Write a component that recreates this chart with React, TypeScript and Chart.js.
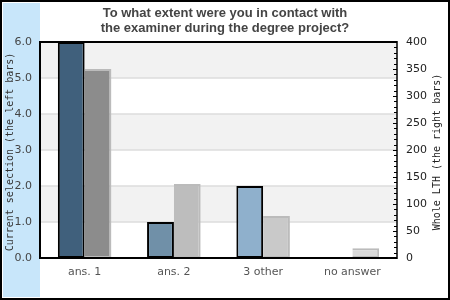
import React, { useEffect, useRef } from "react";
import { Chart, registerables } from "chart.js";

Chart.register(...registerables);

const categories = ["ans. 1", "ans. 2", "3 other", "no answer"];
const currentValues = [6, 1, 2, 0];
const lthValues = [350, 137, 78, 18];
const leftTicks = [0, 1, 2, 3, 4, 5, 6];
const rightTicks = [0, 50, 100, 150, 200, 250, 300, 350, 400];
const titleLines = ["To what extent were you in contact with", "the examiner during the degree project?"];
const leftTitle = "Current selection (the left bars)";
const rightTitle = "Whole LTH (the right bars)";

const currentColors = ["#40607c", "#7090a8", "#8fb0cc", "#b0cce0"];
const lthColors = ["#8c8c8c", "#bdbdbd", "#c9c9c9", "#d9d9d9"];

const decorPlugin = {
  id: "decor",
  beforeDraw(chart: any) {
    const { ctx, chartArea, scales } = chart;
    const y = scales.y;
    ctx.save();
    ctx.fillStyle = "#ffffff";
    ctx.fillRect(0, 0, chart.width, chart.height);
    ctx.fillStyle = "#c8e6fa";
    ctx.fillRect(3, 3, 37, 294);
    for (let v = 0; v < 6; v++) {
      if (v % 2 === 1) {
        const top = y.getPixelForValue(v + 1);
        const bot = y.getPixelForValue(v);
        ctx.fillStyle = "#f2f2f2";
        ctx.fillRect(chartArea.left, top, chartArea.right - chartArea.left, bot - top);
      }
    }
    ctx.strokeStyle = "#dddddd";
    ctx.lineWidth = 1.5;
    for (const v of leftTicks) {
      const py = y.getPixelForValue(v);
      ctx.beginPath();
      ctx.moveTo(chartArea.left, py);
      ctx.lineTo(chartArea.right, py);
      ctx.stroke();
    }
    ctx.restore();
  },
  afterDraw(chart: any) {
    const { ctx, chartArea, scales } = chart;
    const y1 = scales.y1;
    ctx.save();
    ctx.strokeStyle = "#000";
    ctx.lineWidth = 2;
    ctx.beginPath();
    ctx.moveTo(chartArea.right, chartArea.top);
    ctx.lineTo(chartArea.left, chartArea.top);
    ctx.lineTo(chartArea.left, chartArea.bottom);
    ctx.lineTo(chartArea.right, chartArea.bottom);
    ctx.stroke();
    ctx.lineWidth = 1.5;
    ctx.beginPath();
    ctx.moveTo(chartArea.right, chartArea.top - 1);
    ctx.lineTo(chartArea.right, chartArea.bottom + 1);
    ctx.stroke();
    ctx.lineWidth = 1;
    for (let v = 0; v <= 400; v += 10) {
      const py = Math.round(y1.getPixelForValue(v)) + 0.5;
      const len = v % 50 === 0 ? 4 : 3;
      ctx.beginPath();
      ctx.moveTo(chartArea.right - len, py);
      ctx.lineTo(chartArea.right, py);
      ctx.stroke();
    }
    ctx.lineWidth = 2;
    ctx.strokeRect(1, 1, chart.width - 2, chart.height - 2);
    ctx.fillStyle = "#444";
    ctx.font = "bold 13px 'Liberation Sans', Arial, sans-serif";
    ctx.textAlign = "center";
    ctx.textBaseline = "middle";
    ctx.fillText(titleLines[0], 225, 13);
    ctx.fillText(titleLines[1], 225, 28);
    ctx.font = "10px 'DejaVu Sans Mono', monospace";
    ctx.fillStyle = "#333";
    ctx.save();
    ctx.translate(10, 152);
    ctx.rotate(-Math.PI / 2);
    ctx.fillText(leftTitle, 0, 0);
    ctx.restore();
    ctx.fillStyle = "#222";
    ctx.save();
    ctx.translate(437, 152);
    ctx.rotate(-Math.PI / 2);
    ctx.fillText(rightTitle, 0, 0);
    ctx.restore();
    ctx.restore();
  },
};

export default function App() {
  const ref = useRef<HTMLCanvasElement>(null);
  useEffect(() => {
    document.body.style.margin = "0";
    const chart = new Chart(ref.current!, {
      type: "bar",
      data: {
        labels: categories,
        datasets: [
          {
            label: "Current",
            data: currentValues,
            yAxisID: "y",
            backgroundColor: currentColors,
            borderColor: "#000",
            borderWidth: 2,
            borderSkipped: false,
          },
          {
            label: "Whole LTH",
            data: lthValues,
            yAxisID: "y1",
            backgroundColor: lthColors,
            borderColor: "#bbbbbb",
            borderWidth: 2,
            borderSkipped: "left",
          },
        ],
      },
      options: {
        animation: false,
        responsive: false,
        layout: { padding: { top: 42, left: 0, right: 0, bottom: 0 } },
        plugins: { legend: { display: false }, tooltip: { enabled: false }, title: { display: false } },
        datasets: { bar: { categoryPercentage: 0.6, barPercentage: 1 } },
        scales: {
          x: {
            grid: { display: false, drawTicks: false },
            border: { display: false },
            ticks: { color: "#555", font: { family: "'DejaVu Sans'", size: 11 }, padding: 8, maxRotation: 0 },
            afterFit: (s: any) => { s.height = 42; },
          },
          y: {
            position: "left",
            min: 0,
            max: 6,
            grid: { display: false, drawTicks: false },
            border: { display: false },
            ticks: {
              stepSize: 1,
              color: "#444",
              font: { family: "'DejaVu Sans'", size: 11 },
              padding: 8,
              callback: (v: any) => Number(v).toFixed(1),
            },
            afterFit: (s: any) => { s.width = 40; },
          },
          y1: {
            position: "right",
            min: 0,
            max: 400,
            grid: { display: false, drawTicks: false },
            border: { display: false },
            ticks: {
              stepSize: 50,
              color: "#222",
              font: { family: "'DejaVu Sans'", size: 11 },
              padding: 9,
            },
            afterFit: (s: any) => { s.width = 53; },
          },
        },
      },
      plugins: [decorPlugin],
    });
    return () => chart.destroy();
  }, []);
  return (
    <div style={{ position: "absolute", left: 0, top: 0, width: 450, height: 300 }}>
      <canvas ref={ref} width={450} height={300} style={{ width: 450, height: 300 }} />
    </div>
  );
}
